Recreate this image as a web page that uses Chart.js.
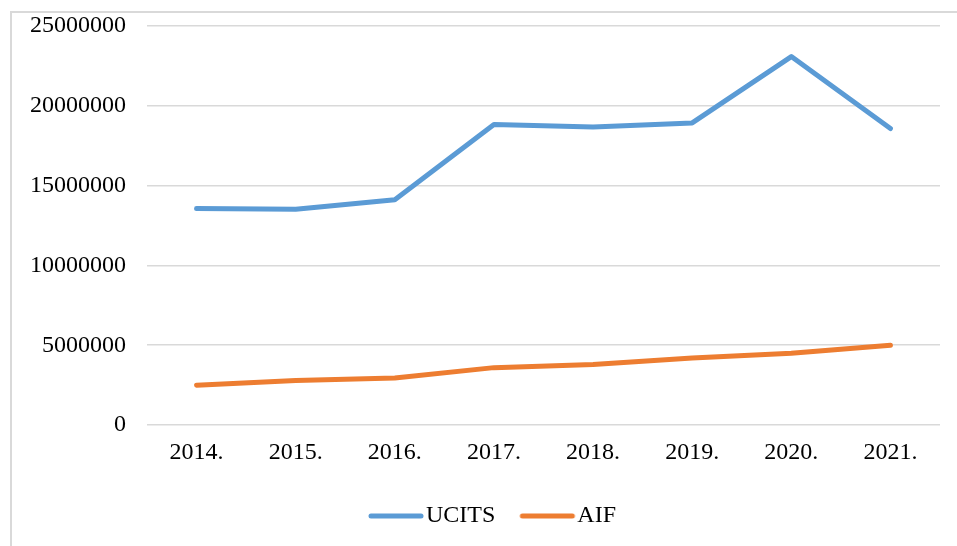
<!DOCTYPE html>
<html>
<head>
<meta charset="utf-8">
<script src="https://cdn.jsdelivr.net/npm/chart.js@4/dist/chart.umd.min.js"></script>
<style>
  body { margin: 0; background: #fff; overflow: hidden; }
  #frame {
    position: absolute; left: 10px; top: 11px; width: 960px; height: 540px;
    border-left: 2px solid #d9d9d9; border-top: 2px solid #d9d9d9;
  }
  #wrap { position: absolute; left: 0; top: -10px; width: 957px; height: 556px; }
</style>
</head>
<body>
<div id="frame"></div>
<div id="wrap"><canvas id="chart"></canvas></div>
<script>
let years = ["2014.", "2015.", "2016.", "2017.", "2018.", "2019.", "2020.", "2021."];
let ucits = [13550000, 13500000, 14100000, 18800000, 18650000, 18900000, 23050000, 18550000];
let aif = [2500000, 2800000, 2950000, 3600000, 3800000, 4200000, 4500000, 5000000];

let font = { family: "Liberation Serif", size: 24 };

// legend marker: short thick line with round ends
function legendLine(color) {
  const c = document.createElement("canvas");
  c.width = 80;
  c.height = 8;
  const ctx = c.getContext("2d");
  ctx.strokeStyle = color;
  ctx.lineWidth = 5;
  ctx.lineCap = "round";
  ctx.beginPath();
  ctx.moveTo(20, 4);
  ctx.lineTo(70, 4);
  ctx.stroke();
  return c;
}

// legend sits centred under the plot area, not the whole canvas
let legendShift = {
  id: "legendShift",
  afterLayout(chart) {
    chart.legend.left += 22;
    chart.legend.right += 22;
  },
};

let config = {
  type: "line",
  data: {
    labels: years,
    datasets: [
      {
        label: "UCITS",
        data: ucits,
        borderColor: "#5b9bd5",
        backgroundColor: "#5b9bd5",
        borderWidth: 5,
        borderCapStyle: "round",
        borderJoinStyle: "round",
        pointRadius: 0,
        pointStyle: legendLine("#5b9bd5"),
        tension: 0,
      },
      {
        label: "AIF",
        data: aif,
        borderColor: "#ed7d31",
        backgroundColor: "#ed7d31",
        borderWidth: 5,
        borderCapStyle: "round",
        borderJoinStyle: "round",
        pointRadius: 0,
        pointStyle: legendLine("#ed7d31"),
        tension: 0,
      },
    ],
  },
  options: {
    responsive: true,
    maintainAspectRatio: false,
    animation: false,
    layout: { padding: { top: 5, right: 17, bottom: 8, left: 0 } },
    plugins: {
      tooltip: { enabled: false },
      legend: {
        position: "bottom",
        labels: {
          font: font,
          color: "#000",
          usePointStyle: true,
          pointStyleWidth: 46,
          padding: 24,
        },
      },
    },
    scales: {
      x: {
        offset: true,
        grid: { display: false },
        border: { display: false },
        ticks: { font: font, color: "#000", padding: 5, maxRotation: 0 },
        afterFit: function (scale) {
          scale.height += 8;
        },
      },
      y: {
        min: 0,
        max: 25000000,
        ticks: {
          stepSize: 5000000,
          font: font,
          color: "#000",
          padding: 21,
          callback: (v) => String(v),
        },
        grid: { color: "#d9d9d9", lineWidth: 1.5, drawTicks: false },
        border: { display: false },
        afterFit: function (scale) {
          scale.width = 147;
        },
      },
    },
  },
  plugins: [legendShift],
};

new Chart(document.getElementById("chart"), config);
</script>
</body>
</html>
